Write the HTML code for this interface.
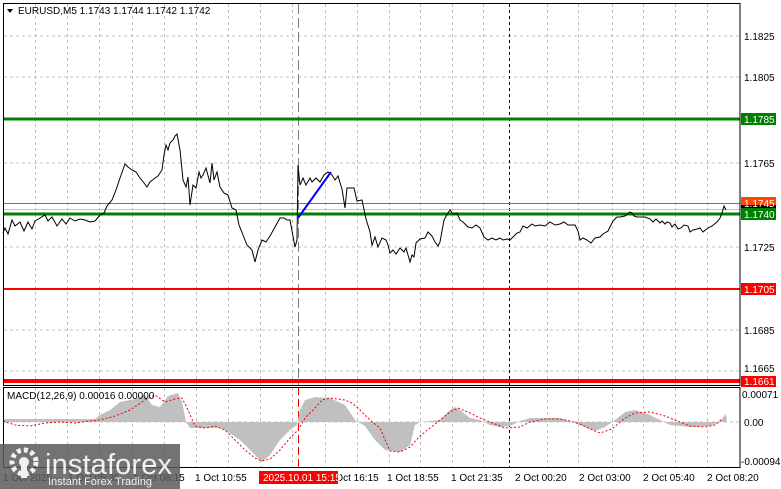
<!DOCTYPE html>
<html><head><meta charset="utf-8"><style>
html,body{margin:0;padding:0;background:#fff;}
svg{display:block;font-family:"Liberation Sans",sans-serif;}
</style></head><body>
<svg width="781" height="489" viewBox="0 0 781 489" xmlns="http://www.w3.org/2000/svg">
<rect width="781" height="489" fill="#fff"/>
<g stroke="#c0c0c0" stroke-dasharray="3,3" stroke-width="1">
<line x1="4" y1="36" x2="740" y2="36"/><line x1="4" y1="77" x2="740" y2="77"/>
<line x1="4" y1="163" x2="740" y2="163"/><line x1="4" y1="247" x2="740" y2="247"/>
<line x1="4" y1="330" x2="740" y2="330"/><line x1="4" y1="371" x2="740" y2="371"/>
<line x1="4" y1="422" x2="740" y2="422"/>
<line x1="35.5" y1="4" x2="35.5" y2="467"/><line x1="67.5" y1="4" x2="67.5" y2="467"/>
<line x1="99.5" y1="4" x2="99.5" y2="467"/><line x1="132.5" y1="4" x2="132.5" y2="467"/>
<line x1="164.5" y1="4" x2="164.5" y2="467"/><line x1="196.5" y1="4" x2="196.5" y2="467"/>
<line x1="228.5" y1="4" x2="228.5" y2="467"/><line x1="260.5" y1="4" x2="260.5" y2="467"/>
<line x1="292.5" y1="4" x2="292.5" y2="467"/><line x1="325.5" y1="4" x2="325.5" y2="467"/>
<line x1="357.5" y1="4" x2="357.5" y2="467"/><line x1="389.5" y1="4" x2="389.5" y2="467"/>
<line x1="420.5" y1="4" x2="420.5" y2="467"/><line x1="452.5" y1="4" x2="452.5" y2="467"/>
<line x1="483.5" y1="4" x2="483.5" y2="467"/><line x1="547.5" y1="4" x2="547.5" y2="467"/>
<line x1="578.5" y1="4" x2="578.5" y2="467"/><line x1="612.5" y1="4" x2="612.5" y2="467"/>
<line x1="643.5" y1="4" x2="643.5" y2="467"/><line x1="675.5" y1="4" x2="675.5" y2="467"/>
<line x1="707.5" y1="4" x2="707.5" y2="467"/>
</g>
<line x1="509.5" y1="4" x2="509.5" y2="467" stroke="#000" stroke-dasharray="3,3"/>
<line x1="298.5" y1="4" x2="298.5" y2="385" stroke="#708090" stroke-dasharray="10,4"/>
<line x1="298.5" y1="387" x2="298.5" y2="467" stroke="#e00" stroke-dasharray="8,4"/>
<line x1="4" y1="119" x2="740" y2="119" stroke="#008000" stroke-width="3"/>
<line x1="4" y1="203.5" x2="740" y2="203.5" stroke="#ff4500" stroke-width="1"/>
<line x1="4" y1="209.5" x2="740" y2="209.5" stroke="#c0c0c0" stroke-width="1"/>
<line x1="4" y1="214" x2="740" y2="214" stroke="#008000" stroke-width="3"/>
<line x1="4" y1="289" x2="740" y2="289" stroke="#ff0000" stroke-width="2"/>
<line x1="4" y1="381" x2="740" y2="381" stroke="#ff0000" stroke-width="4"/>
<polyline fill="none" stroke="#000" stroke-width="1" points="3,233 5,228 8,234 12,220 15,226 20,222 24,231 28,222 32,229 35,221 40,218 45,215 48,221 52,217 57,226 62,219 66,224 70,218 75,221 80,219 85,220 90,222 95,221 100,215 104,213 107,206 112,200 116,190 120,178 125,164 128,167 132,170 136,172 140,178 144,183 147,187 150,182 155,178 158,176 162,170 164,155 166,145 168,150 170,143 173,140 175,136 177,134 180,150 183,180 186,187 188,177 190,205 193,185 196,188 199,172 201,178 203,175 206,168 210,183 212,163 214,180 217,172 220,187 224,193 228,195 232,208 236,210 239,225 243,235 247,245 252,250 255,262 258,250 262,240 266,242 270,236 275,227 280,218 284,218 287,220 290,220 295,247 297,240 298,165 300,185 303,178 306,185 310,178 312,182 316,178 320,182 324,175 328,172 332,175 335,180 338,176 342,189 345,208 347,188 350,188 354,188 357,201 362,200 366,219 370,232 372,245 375,237 378,247 382,238 386,240 388,245 390,253 393,250 396,254 400,248 404,252 406,248 410,262 412,255 414,257 416,243 420,239 425,238 428,232 432,236 435,242 438,246 440,242 442,231 444,220 448,213 450,210 453,214 457,213 460,220 463,222 468,227 472,228 476,225 480,228 484,237 488,240 492,238 496,240 500,238 503,240 507,239 510,240 513,237 517,233 520,232 523,226 527,228 532,224 535,226 540,225 545,226 550,222 555,225 560,224 564,222 568,225 575,225 578,231 580,240 583,238 587,240 591,243 595,238 600,237 603,234 608,231 610,227 613,221 617,217 620,217 625,216 630,212 632,213 634,216 637,217 645,217 650,219 653,222 656,219 660,223 662,221 665,224 667,222 670,223 672,227 675,224 678,229 681,228 684,225 688,226 690,232 693,230 697,229 700,228 703,232 708,228 712,226 717,222 720,218 722,213 724,206 726,210"/>
<line x1="298" y1="218" x2="331" y2="172" stroke="#0000ff" stroke-width="2"/>
<polygon fill="#c0c0c0" points="3,422 3,419 95,419 100,415 110,410 120,402 135,399 145,395 152,405 160,407 168,396 178,393 182,402 186,422 190,428 220,428 228,432 240,440 255,455 262,462 270,455 280,440 290,430 297,425 300,410 305,400 315,397 330,398 345,405 355,420 365,426 375,440 385,450 400,452 410,445 415,425 420,422 440,420 450,410 455,407 460,410 470,418 480,420 490,425 500,427 510,426 520,421 530,418 560,418 575,423 585,427 595,431 605,427 615,420 625,412 635,410 650,415 660,420 670,425 690,427 710,426 720,422 724,416 726,414 727,422"/>
<polyline fill="none" stroke="#e00" stroke-dasharray="2,2" stroke-width="1" points="3,421 15,425 30,426 45,423 60,422 75,423 90,421 100,420 115,416 130,410 145,400 155,395 165,402 175,399 182,398 188,410 195,426 205,428 215,426 225,430 235,440 245,450 255,458 262,461 270,459 280,450 290,438 298,430 305,418 315,408 322,400 330,398 345,400 352,403 360,410 370,420 380,428 390,451 400,452 410,447 420,436 430,428 440,420 450,412 458,408 470,413 480,418 490,422 505,428 520,427 530,422 545,419 560,419 570,421 580,424 590,429 600,433 612,429 625,418 635,413 650,412 665,416 675,420 690,426 705,427 715,425 722,419"/>
<rect x="3.5" y="3.5" width="736.5" height="382" fill="none" stroke="#000"/>
<rect x="3.5" y="387.5" width="736.5" height="80" fill="none" stroke="#000"/>
<polygon points="7,9 13,9 10,13" fill="#000"/>
<text x="18" y="14" font-size="10" fill="#000">EURUSD,M5  1.1743 1.1744 1.1742 1.1742</text>
<text x="7" y="399" font-size="10" fill="#000">MACD(12,26,9) 0.00016 0.00000</text>
<g font-size="10" fill="#000">
<text x="744" y="40">1.1825</text><text x="744" y="81">1.1805</text>
<text x="744" y="167">1.1765</text><text x="744" y="251">1.1725</text>
<text x="744" y="334">1.1685</text><text x="744" y="372">1.1665</text>
<text x="742" y="398">0.00071</text><text x="744" y="426">0.00</text><text x="741" y="465">-0.00094</text>
</g>
<g font-size="10">
<rect x="741" y="113" width="35" height="12" fill="#008000"/><text x="744" y="123" fill="#fff">1.1785</text>
<rect x="741" y="203" width="35" height="6" fill="#000"/>
<rect x="741" y="197" width="35" height="8" fill="#ff4500"/><text x="744" y="207" fill="#fff">1.1745</text>
<rect x="741" y="208" width="35" height="12" fill="#008000"/><text x="744" y="218" fill="#fff">1.1740</text>
<rect x="741" y="283" width="35" height="12" fill="#ff0000"/><text x="744" y="293" fill="#fff">1.1705</text>
<rect x="741" y="376" width="35" height="11" fill="#ff0000"/><text x="744" y="385" fill="#fff">1.1661</text>
</g>
<g font-size="10" fill="#000">
<text x="3" y="481">1 Oct 2025</text><text x="68" y="481">1 Oct 05:35</text>
<text x="133" y="481">1 Oct 08:15</text><text x="195" y="481">1 Oct 10:55</text>
<text x="327" y="481">1 Oct 16:15</text><text x="387" y="481">1 Oct 18:55</text>
<text x="451" y="481">1 Oct 21:35</text><text x="515" y="481">2 Oct 00:20</text>
<text x="579" y="481">2 Oct 03:00</text><text x="643" y="481">2 Oct 05:40</text>
<text x="707" y="481">2 Oct 08:20</text>
</g>
<rect x="259" y="471" width="79" height="13" fill="#ff0000"/>
<text x="263" y="481" font-size="10" fill="#fff">2025.10.01 15:15</text>
<rect x="0" y="444" width="180" height="45" fill="#5a5a5a" opacity="0.85"/>
<g fill="#fff" opacity="0.9">
<circle cx="24" cy="462" r="12" fill="none" stroke="#fff" stroke-width="5" stroke-dasharray="4,3"/>
<circle cx="24" cy="462" r="5"/>
<rect x="21" y="466" width="6" height="12"/>
</g>
<text x="45" y="474" font-size="29" fill="#fff" opacity="0.9" textLength="127">instaforex</text>
<text x="48" y="485" font-size="11" fill="#fff" opacity="0.9">Instant Forex Trading</text>
</svg>
</body></html>
